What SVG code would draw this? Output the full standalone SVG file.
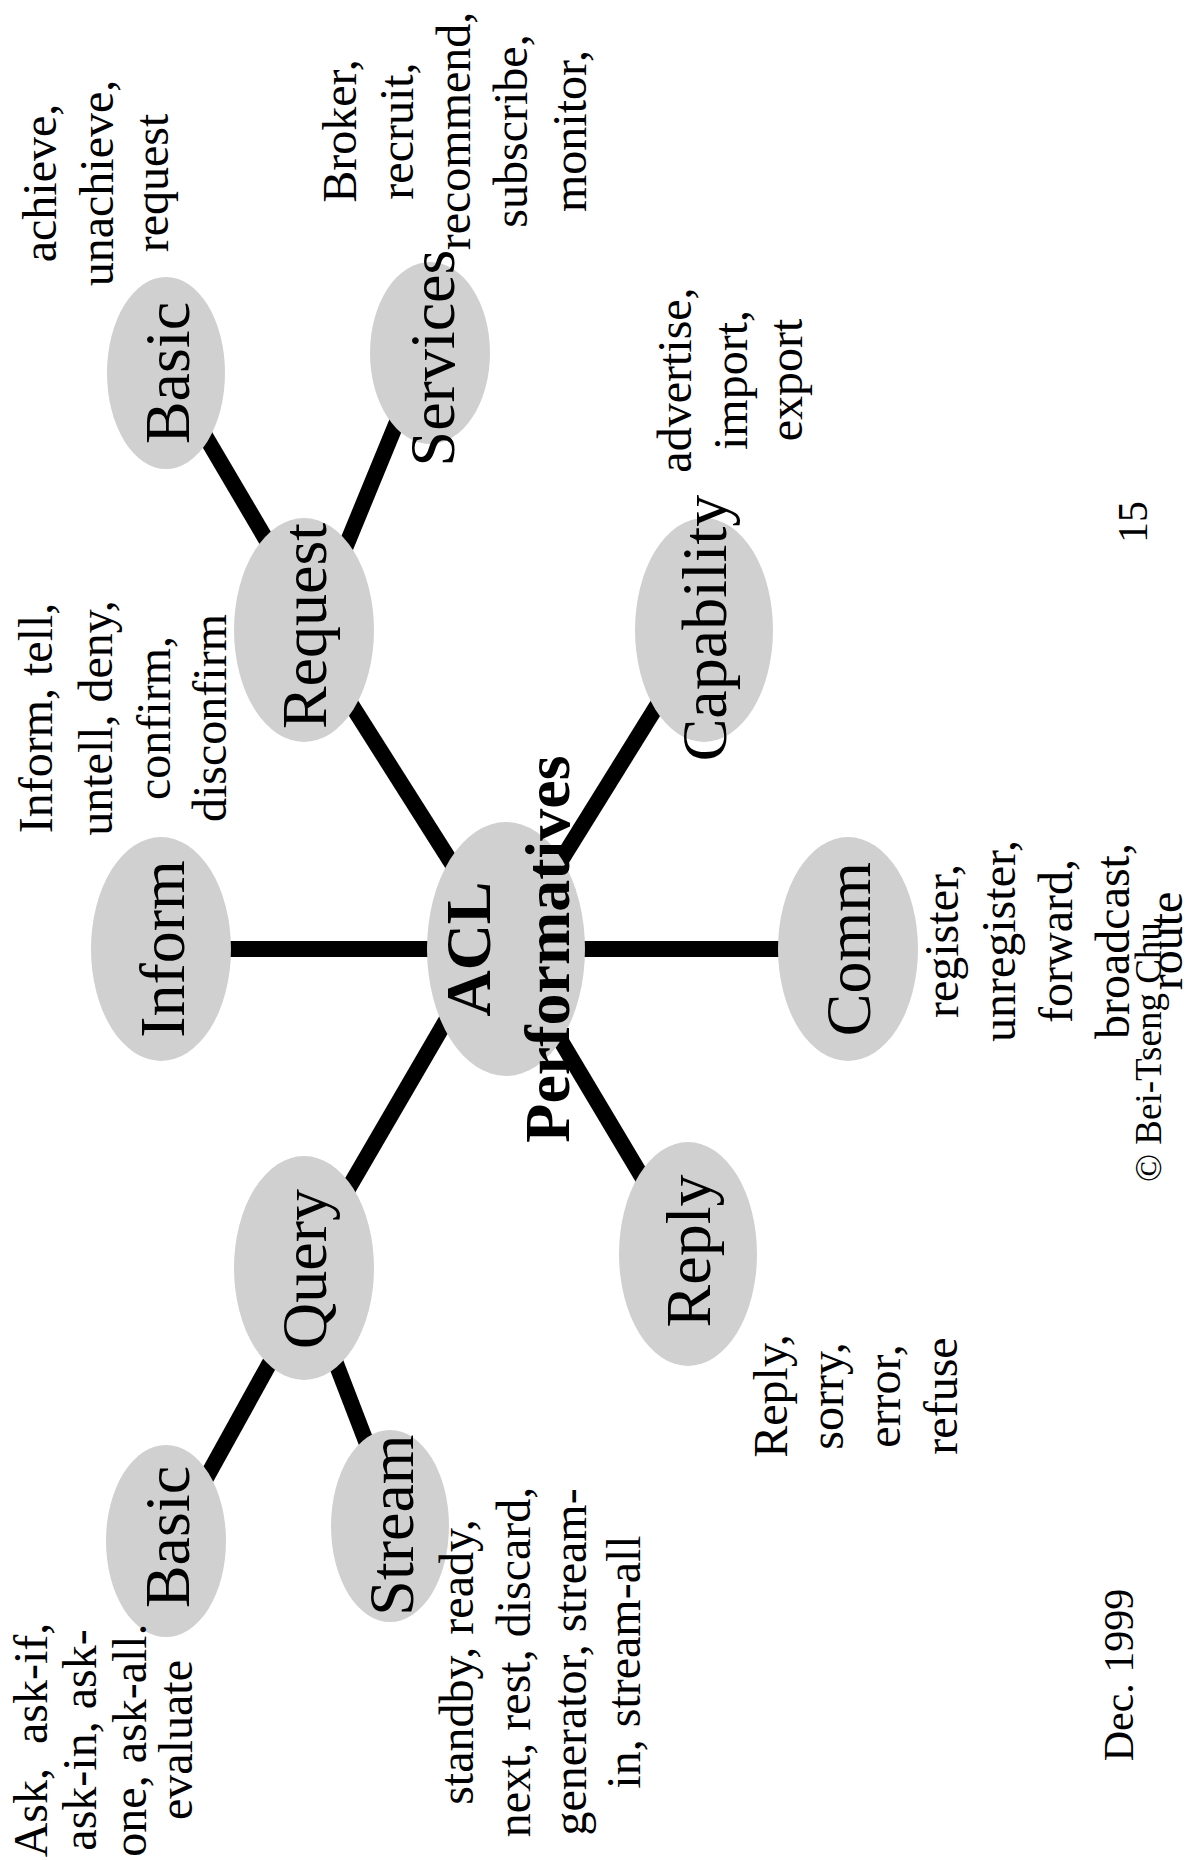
<svg xmlns="http://www.w3.org/2000/svg" width="1193" height="1860" viewBox="0 0 1193 1860">
  <style>
    .bg { fill: #ffffff; }
    .node ellipse { fill: #d0d0d0; stroke: none; }
    .edge { stroke: #000000; stroke-width: 16; stroke-linecap: butt; fill: none; }
    text { font-family: "Liberation Serif", "Times New Roman", serif; fill: #000000; text-anchor: middle; }
    .lbl { font-size: 64px; }
    .bold { font-weight: bold; }
    .lst { font-size: 48px; }
    .ft { font-size: 42px; }
    .cr { font-size: 37px; text-anchor: start; }
  </style>

  <rect class="bg" x="0" y="0" width="1193" height="1860"/>

  <!-- connectors: drawn first so the ellipses cover their ends -->
  <g id="connectors">
    <line class="edge" x1="200" y1="949" x2="460" y2="949"/>
    <line class="edge" x1="550" y1="949" x2="810" y2="949"/>
    <line class="edge" x1="304" y1="630" x2="506" y2="949"/>
    <line class="edge" x1="506" y1="949" x2="704" y2="630"/>
    <line class="edge" x1="458" y1="1000" x2="330" y2="1220"/>
    <line class="edge" x1="506" y1="949" x2="688" y2="1254"/>
    <line class="edge" x1="184" y1="400" x2="290" y2="580"/>
    <line class="edge" x1="406" y1="400" x2="332" y2="580"/>
    <line class="edge" x1="288" y1="1330" x2="194" y2="1500"/>
    <line class="edge" x1="327" y1="1340" x2="377" y2="1470"/>
  </g>

  <!-- nodes; every label reads bottom-to-top (rotate -90: local x = -y, local y = x) -->
  <g id="acl" class="node">
    <ellipse cx="506" cy="949" rx="79" ry="127"/>
    <text class="lbl bold" transform="rotate(-90)"><tspan x="-949" y="490">ACL</tspan><tspan x="-949" y="569">Performatives</tspan></text>
  </g>
  <g id="inform" class="node">
    <ellipse cx="161" cy="949" rx="70" ry="112"/>
    <text class="lbl" transform="rotate(-90)" x="-949" y="184">Inform</text>
  </g>
  <g id="request" class="node">
    <ellipse cx="304" cy="630" rx="70" ry="112"/>
    <text class="lbl" transform="rotate(-90)" x="-626" y="326">Request</text>
  </g>
  <g id="capability" class="node">
    <ellipse cx="704" cy="630" rx="69" ry="112"/>
    <text class="lbl" transform="rotate(-90)" x="-628" y="726">Capability</text>
  </g>
  <g id="comm" class="node">
    <ellipse cx="848" cy="949" rx="70" ry="112"/>
    <text class="lbl" transform="rotate(-90)" x="-949" y="870">Comm</text>
  </g>
  <g id="query" class="node">
    <ellipse cx="304" cy="1268" rx="70" ry="112"/>
    <text class="lbl" transform="rotate(-90)" x="-1269" y="326">Query</text>
  </g>
  <g id="reply" class="node">
    <ellipse cx="688" cy="1254" rx="69" ry="112"/>
    <text class="lbl" transform="rotate(-90)" x="-1251" y="710">Reply</text>
  </g>
  <g id="request-basic" class="node">
    <ellipse cx="166" cy="373" rx="59" ry="96"/>
    <text class="lbl" transform="rotate(-90)" x="-373" y="189">Basic</text>
  </g>
  <g id="services" class="node">
    <ellipse cx="430" cy="353" rx="60" ry="91"/>
    <text class="lbl" transform="rotate(-90)" x="-358" y="454">Services</text>
  </g>
  <g id="query-basic" class="node">
    <ellipse cx="166" cy="1541" rx="60" ry="96"/>
    <text class="lbl" transform="rotate(-90)" x="-1537" y="189">Basic</text>
  </g>
  <g id="stream" class="node">
    <ellipse cx="390" cy="1526" rx="59" ry="96"/>
    <text class="lbl" transform="rotate(-90)" x="-1525" y="413">Stream</text>
  </g>

  <!-- performative lists next to each category -->
  <g id="lists">
    <text class="lst" transform="rotate(-90)"><tspan x="-183" y="56">achieve,</tspan><tspan x="-183" y="113">unachieve,</tspan><tspan x="-183" y="168">request</tspan></text>
    <text class="lst" transform="rotate(-90)"><tspan x="-131" y="356">Broker,</tspan><tspan x="-131" y="413">recruit,</tspan><tspan x="-131" y="470">recommend,</tspan><tspan x="-131" y="527">subscribe,</tspan><tspan x="-131" y="586">monitor,</tspan></text>
    <text class="lst" transform="rotate(-90)"><tspan x="-718" y="52">Inform, tell,</tspan><tspan x="-718" y="112">untell, deny,</tspan><tspan x="-718" y="170">confirm,</tspan><tspan x="-718" y="226">disconfirm</tspan></text>
    <text class="lst" transform="rotate(-90)"><tspan x="-380" y="691">advertise,</tspan><tspan x="-380" y="747">import,</tspan><tspan x="-380" y="802">export</tspan></text>
    <text class="lst" transform="rotate(-90)"><tspan x="-941" y="958">register,</tspan><tspan x="-941" y="1015">unregister,</tspan><tspan x="-941" y="1072">forward,</tspan><tspan x="-941" y="1129">broadcast,</tspan><tspan x="-941" y="1182">route</tspan></text>
    <text class="lst" transform="rotate(-90)"><tspan x="-1396" y="787">Reply,</tspan><tspan x="-1396" y="843">sorry,</tspan><tspan x="-1396" y="900">error,</tspan><tspan x="-1396" y="957">refuse</tspan></text>
    <text class="lst" transform="rotate(-90)" xml:space="preserve"><tspan x="-1740" y="47">Ask,  ask-if,</tspan><tspan x="-1740" y="96">ask-in, ask-</tspan><tspan x="-1740" y="146">one, ask-all.</tspan><tspan x="-1740" y="192">evaluate</tspan></text>
    <text class="lst" transform="rotate(-90)"><tspan x="-1662" y="473">standby, ready,</tspan><tspan x="-1662" y="530">next, rest, discard,</tspan><tspan x="-1662" y="586">generator, stream-</tspan><tspan x="-1662" y="640">in, stream-all</tspan></text>
  </g>

  <!-- footer -->
  <g id="footer">
    <text class="ft" transform="rotate(-90)" x="-1675" y="1133">Dec. 1999</text>
    <text class="cr" transform="rotate(-90)" x="-1182" y="1161">© Bei-Tseng Chu</text>
    <text class="ft" transform="rotate(-90)" x="-522" y="1147">15</text>
  </g>
</svg>
